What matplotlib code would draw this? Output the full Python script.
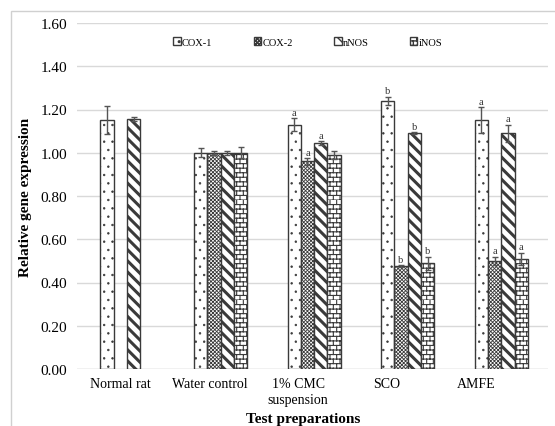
import numpy as np
import matplotlib
matplotlib.use('Agg')
import matplotlib.pyplot as plt
import matplotlib.hatch as mhatch
from matplotlib.patches import Rectangle, Patch


class BrickHatch(mhatch.HatchPatternBase):
    # 'B' in a hatch string draws a brick wall
    def __init__(self, hatch, density):
        self.rows = 2 * int(hatch.count('B') * 11)
        self.cols = int(hatch.count('B') * 15)
        if self.rows:
            self.num_vertices = 2 * self.rows + 2 * self.rows * self.cols
        else:
            self.num_vertices = 0

    def set_vertices_and_codes(self, vertices, codes):
        h = 1.0 / self.rows
        w = 1.0 / self.cols
        k = 0
        for i in range(self.rows):
            y = i * h
            vertices[k] = (0, y)
            vertices[k + 1] = (1, y)
            codes[k] = mhatch.Path.MOVETO
            codes[k + 1] = mhatch.Path.LINETO
            k += 2
            shift = 0.5 * w * (i % 2)
            for j in range(self.cols):
                x = j * w + shift
                vertices[k] = (x, y)
                vertices[k + 1] = (x, y + h)
                codes[k] = mhatch.Path.MOVETO
                codes[k + 1] = mhatch.Path.LINETO
                k += 2


mhatch._hatch_types.append(BrickHatch)

plt.rcParams['font.family'] = ['Liberation Serif', 'DejaVu Serif']

groups = ['Normal rat', 'Water control', '1% CMC\nsuspension', 'SCO', 'AMFE']
genes = ['COX-1', 'COX-2', 'nNOS', 'iNOS']

# nan = not measured
cox1 = [1.15, 1.00, 1.13, 1.24, 1.15]
cox2 = [np.nan, 1.00, 0.96, 0.475, 0.50]
nnos = [1.155, 1.00, 1.045, 1.09, 1.09]
inos = [np.nan, 1.00, 0.99, 0.49, 0.51]

cox1_err = [0.065, 0.02, 0.03, 0.02, 0.06]
cox2_err = [0, 0.01, 0.015, 0.004, 0.02]
nnos_err = [0.01, 0.01, 0.01, 0.005, 0.04]
inos_err = [0, 0.025, 0.02, 0.03, 0.028]

cox1_sig = ['', '', 'a', 'b', 'a']
cox2_sig = ['', '', 'a', 'b', 'a']
nnos_sig = ['', '', 'a', 'b', 'a']
inos_sig = ['', '', '', 'b', 'a']

values = [cox1, cox2, nnos, inos]
errors = [cox1_err, cox2_err, nnos_err, inos_err]
sigs = [cox1_sig, cox2_sig, nnos_sig, inos_sig]
hatches = ['..', 'xxxxxxxxx', '\\\\\\', 'B']
hatch_lw = [0.5, 0.6, 2.2, 0.8]

fig = plt.figure(figsize=(5.55, 4.27), dpi=100)
ax = fig.add_axes([77 / 555, 1 - 370 / 427, 471 / 555, 346 / 427])

fig.patches.append(Rectangle((11 / 555, -0.1), 1.2, 1 - 12 / 427 + 0.1,
                             transform=fig.transFigure, fill=False,
                             ec='#d0d0d0', lw=1))

x = np.arange(len(groups))
w = 0.142
for i in range(4):
    pos = x + (i - 1.5) * w
    bars = ax.bar(pos, values[i], w, color='white', edgecolor='#3a3a3a',
                  linewidth=1.0, hatch=hatches[i], zorder=3)
    for b in bars:
        if hasattr(b, 'set_hatch_linewidth'):
            b.set_hatch_linewidth(hatch_lw[i])
    ax.errorbar(pos, values[i], yerr=errors[i], fmt='none', ecolor='#555555',
                elinewidth=1, capsize=2.5, capthick=1, zorder=4)
    for p, v, e, s in zip(pos, values[i], errors[i], sigs[i]):
        if s:
            ax.text(p, v + e + 0.006, s, ha='center', va='bottom',
                    fontsize=7.5, color='#333333', zorder=5)

ax.set_xlim(-0.535, 4.5)
ax.set_ylim(0, 1.6)
ax.set_yticks(np.arange(0, 1.61, 0.2))
ax.set_yticklabels(['%.2f' % t for t in np.arange(0, 1.61, 0.2)], fontsize=11)
ax.set_xticks(x * 0.95 - 0.07)
ax.set_xticklabels(groups, fontsize=10, linespacing=1.3)
ax.tick_params(axis='y', length=0, pad=7)
ax.tick_params(axis='x', length=0, pad=6)
ax.yaxis.grid(True, color='#d9d9d9', lw=1)
ax.set_axisbelow(True)
for s in ax.spines.values():
    s.set_visible(False)
ax.axhline(0, color='#d9d9d9', lw=1, zorder=2)

ax.set_ylabel('Relative gene expression', fontsize=11, fontweight='bold', labelpad=6)
ax.set_xlabel('Test preparations', fontsize=11, fontweight='bold', labelpad=2)
ax.xaxis.set_label_coords(0.48, -0.125)

handles = [Patch(facecolor='white', edgecolor='#3a3a3a', hatch=h) for h in hatches]
for h, lw in zip(handles, hatch_lw):
    if hasattr(h, 'set_hatch_linewidth'):
        h.set_hatch_linewidth(min(lw, 1.0))
ax.legend(handles, genes, loc='center', bbox_to_anchor=(0.49, 0.945), ncol=4,
          frameon=False, fontsize=7.5, handlelength=0.7, handleheight=0.7,
          handletextpad=0.1, columnspacing=4.0)

fig.savefig('out.png', dpi=100)
